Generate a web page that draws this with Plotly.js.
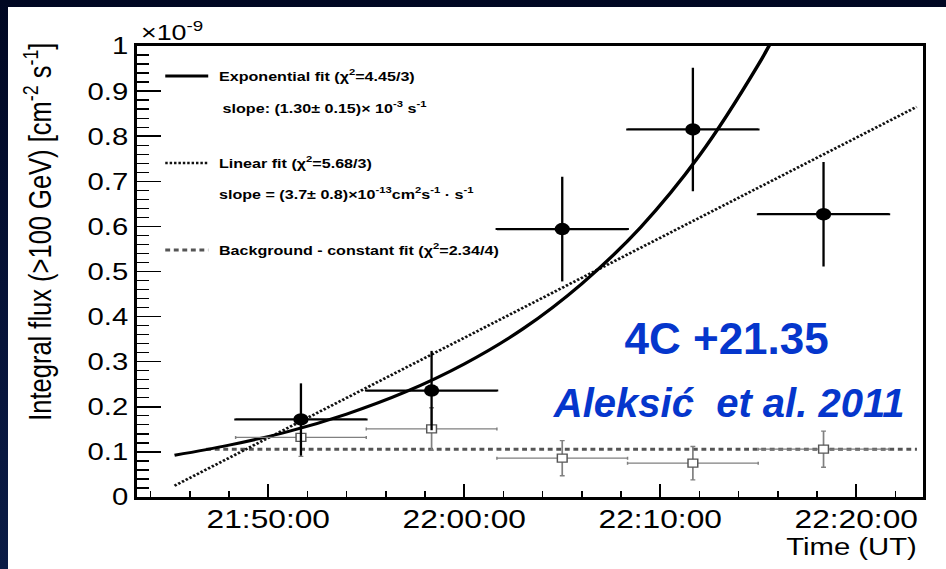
<!DOCTYPE html>
<html>
<head>
<meta charset="utf-8">
<script src="https://cdn.plot.ly/plotly-3.0.1.min.js"></script>
<style>
  html, body { margin:0; padding:0; width:946px; height:569px; overflow:hidden;
    background: linear-gradient(180deg, #000722 0%, #07143a 60%, #0b1c46 100%); }
  #plot { position:absolute; left:8px; top:7px; width:769px; height:562px;
    transform-origin: 0 0; background:#fff; }
</style>
</head>
<body>
<div id="plot"></div>
<script>
// ---- data (flux in units of 1e-9 cm^-2 s^-1, times UT) ----
const binCenters = ['21:51:40', '21:58:20', '22:05:00', '22:11:40', '22:18:20'];
const binHalfWidthSec = [200, 200, 200, 200, 200];
const signalFlux = [0.172, 0.236, 0.594, 0.815, 0.627];
const signalErr  = [0.080, 0.088, 0.116, 0.137, 0.116];
const bgFlux = [0.132, 0.151, 0.086, 0.075, 0.106];
const bgErr  = [0.042, 0.047, 0.039, 0.037, 0.040];

const expTimes  = ['21:45:13', '21:48:00', '21:51:00', '21:54:00', '21:57:00', '22:00:00',
                   '22:03:00', '22:06:00', '22:09:00', '22:12:00', '22:15:00', '22:16:00'];
const expValues = [0.0925, 0.115, 0.145, 0.184, 0.233, 0.295, 0.373, 0.473, 0.598, 0.757, 0.958, 1.037];
const linTimes  = ['21:45:13', '22:23:05'];
const linValues = [0.025, 0.865];
const bgFitTimes  = ['21:46:50', '22:23:06'];
const bgFitValues = [0.106, 0.106];

const xTickLabels = ['21:50:00', '22:00:00', '22:10:00', '22:20:00'];
const xRange = ['21:43:19', '22:23:24'];

// ---- helpers ----
const sec = s => { const p = s.split(':').map(Number); return p[0] * 3600 + p[1] * 60 + p[2]; };
const secs = a => a.map(sec);

// ---- figure ----
const S = 938 / 769;   // horizontal stretch of the original canvas
document.getElementById('plot').style.transform = 'scaleX(' + S + ')';
const F = 'Liberation Sans, Arial, Helvetica, sans-serif';

const traces = [
  { x: secs(bgFitTimes), y: bgFitValues, mode: 'lines', hoverinfo: 'skip',
    line: { color: '#555555', width: 3, dash: '4px,3px' } },
  { x: secs(linTimes), y: linValues, mode: 'lines', hoverinfo: 'skip',
    line: { color: '#111111', width: 2.6, dash: '2px,1.6px' } },
  { x: secs(expTimes), y: expValues, mode: 'lines', line: { color: '#000', width: 3, shape: 'spline' }, hoverinfo: 'skip' },
  { x: secs(binCenters), y: bgFlux, mode: 'markers', type: 'scatter',
    marker: { symbol: 'square', size: 8, color: '#fff', line: { color: '#555', width: 1.2 } },
    error_x: { type: 'data', array: binHalfWidthSec, color: '#808080', thickness: 1.2, width: 1.5 },
    error_y: { type: 'data', array: bgErr, color: '#808080', thickness: 1.4, width: 2 } },
  { x: secs(binCenters), y: signalFlux, mode: 'markers', type: 'scatter',
    marker: { symbol: 'circle', size: 12.5, color: '#000' },
    error_x: { type: 'data', array: binHalfWidthSec, color: '#000', thickness: 2.2, width: 1 },
    error_y: { type: 'data', array: signalErr, color: '#000', thickness: 1.9, width: 0 } }
];

const legX0 = 0.0356, legX1 = 0.0903, legTX = 0.1005;
const legFont = { family: F, size: 13.2, color: '#000' };
const ann = (text, x, y, extra) => Object.assign({ text: text, xref: 'paper', yref: 'paper', x: x, y: y,
  xanchor: 'left', yanchor: 'middle', showarrow: false, font: legFont }, extra || {});
const BLUE = '#0536cc';

const layout = {
  width: 769, height: 562,
  margin: { l: 129 / S, r: 23 / S, t: 39, b: 72 },
  paper_bgcolor: '#ffffff', plot_bgcolor: '#ffffff',
  showlegend: false,
  font: { family: F, color: '#000' },
  xaxis: {
    type: 'linear',
    range: secs(xRange),
    tickmode: 'array',
    tickvals: secs(xTickLabels), ticktext: xTickLabels,
    ticks: 'inside', ticklen: 13, tickwidth: 1.3, tickcolor: '#000',
    minor: { dtick: 120, tick0: sec(xTickLabels[0]), ticks: 'inside', ticklen: 6, tickwidth: 1.3, tickcolor: '#000' },
    showgrid: false, zeroline: false,
    showline: true, linecolor: '#000', linewidth: 2.6, mirror: true,
    ticklabelstandoff: -3,
    tickfont: { family: F, size: 26, color: '#000' }
  },
  yaxis: {
    range: [0, 1], dtick: 0.1, tick0: 0,
    ticks: 'inside', ticklen: 19.7, tickwidth: 1.5, tickcolor: '#000',
    minor: { dtick: 0.02, ticks: 'inside', ticklen: 9.8, tickwidth: 1.3, tickcolor: '#000' },
    showgrid: false, zeroline: false,
    showline: true, linecolor: '#000', linewidth: 2.6, mirror: true,
    tickfont: { family: F, size: 24, color: '#000' }
  },
  shapes: [
    { type: 'line', xref: 'paper', yref: 'paper', x0: legX0, x1: legX1, y0: 0.9335, y1: 0.9335, line: { color: '#000', width: 3 } },
    { type: 'line', xref: 'paper', yref: 'paper', x0: legX0, x1: legX1, y0: 0.7406, y1: 0.7406, line: { color: '#111', width: 2.4, dash: '2px,1.6px' } },
    { type: 'line', xref: 'paper', yref: 'paper', x0: legX0, x1: legX1, y0: 0.5477, y1: 0.5477, line: { color: '#555', width: 3, dash: '4px,3px' } }
  ],
  annotations: [
    ann('<b>Exponential fit (χ<sup>2</sup>=4.45/3)</b>', legTX, 0.9335),
    ann('<b>slope: (1.30± 0.15)× 10<sup>-3</sup> s<sup>-1</sup></b>', legTX + 0.0051, 0.8647),
    ann('<b>Linear fit (χ<sup>2</sup>=5.68/3)</b>', legTX, 0.7406),
    ann('<b>slope = (3.7± 0.8)×10<sup>-13</sup>cm<sup>2</sup>s<sup>-1</sup> · s<sup>-1</sup></b>', legTX, 0.674),
    ann('<b>Background - constant fit (χ<sup>2</sup>=2.34/4)</b>', legTX, 0.5477),
    { text: '<b>4C +21.35</b>', xref: 'paper', yref: 'paper', x: 0.750, y: 0.3525, xanchor: 'center', yanchor: 'middle',
      showarrow: false, font: { family: F, size: 44, color: BLUE } },
    { text: '<b><i>Aleksić\u00a0 et al. 2011</i></b>', xref: 'paper', yref: 'paper', x: 0.7532, y: 0.2084, xanchor: 'center', yanchor: 'middle',
      showarrow: false, font: { family: F, size: 40, color: BLUE } },
    { text: 'Time (UT)', xref: 'paper', yref: 'paper', x: 1, y: 0, xanchor: 'right', yanchor: 'middle',
      xshift: -4 / S, yshift: -49, showarrow: false, font: { family: F, size: 24, color: '#000' } },
    { text: '×10<sup>-9</sup>', xref: 'paper', yref: 'paper', x: 0, y: 1, xanchor: 'left', yanchor: 'middle',
      xshift: 1 / S, yshift: 15, showarrow: false, font: { family: F, size: 22, color: '#000' } },
    { text: 'Integral flux (>100 GeV) [cm<sup>-2</sup> s<sup>-1</sup>]', xref: 'paper', yref: 'paper', x: 0, y: 1,
      xanchor: 'center', yanchor: 'top', textangle: -90, xshift: (38 - 137) / S, yshift: 5,
      showarrow: false, font: { family: F, size: 25.5, color: '#000' } }
  ]
};

Plotly.newPlot('plot', traces, layout, { displayModeBar: false, staticPlot: true }).then(function (gd) {
  // the two blue captions were added on top of the stretched canvas: undo the stretch for them
  gd.querySelectorAll('text.annotation-text').forEach(function (el) {
    const txt = el.textContent || '';
    if (txt.indexOf('4C') >= 0 || txt.indexOf('Aleksi') >= 0) {
      const bb = el.getBBox();
      const cx = bb.x + bb.width / 2;
      el.setAttribute('transform', 'translate(' + cx + ',0) scale(' + (1 / S) + ',1) translate(' + (-cx) + ',0)');
    }
  });
});
</script>
</body>
</html>
